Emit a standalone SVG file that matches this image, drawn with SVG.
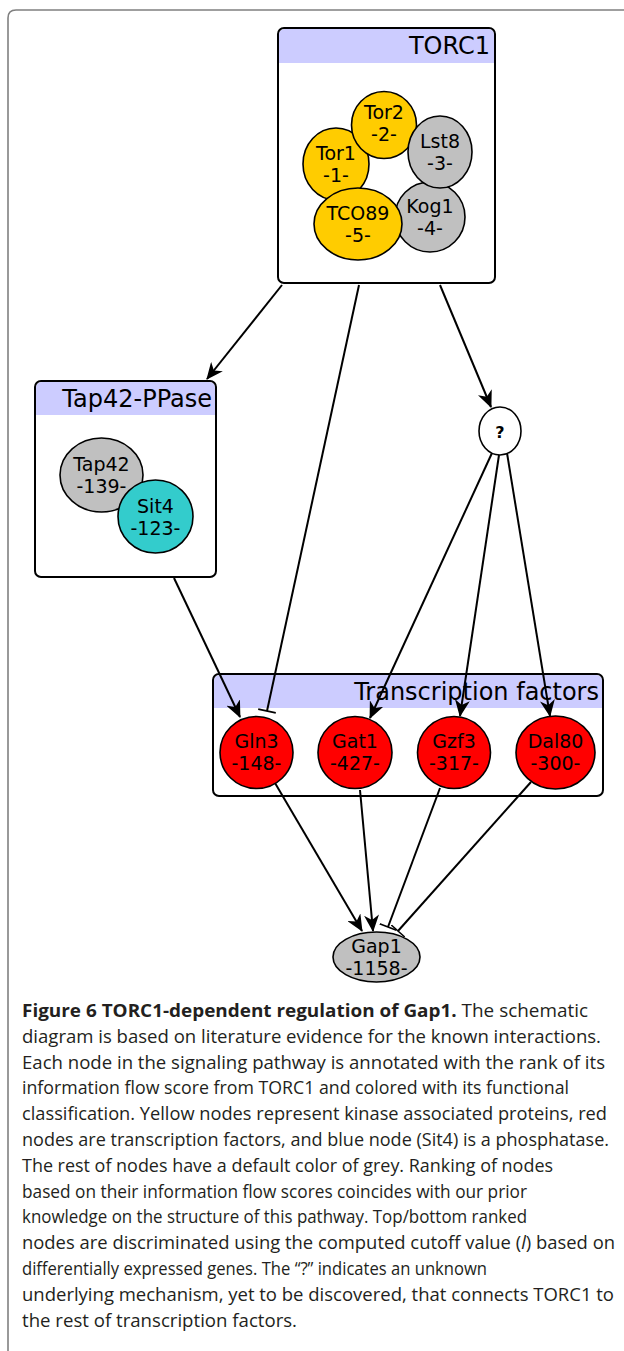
<svg xmlns="http://www.w3.org/2000/svg" width="624" height="1351" viewBox="0 0 624 1351">
<style>
.bg{fill:#fff}
.box{fill:none;stroke:#000;stroke-width:2}
.boxfill{fill:#fff}
.hdr{fill:#ccccff}
.title{font-family:'DejaVu Sans',sans-serif;font-size:24px;text-anchor:end;fill:#000}
.lbl{font-family:'DejaVu Sans',sans-serif;font-size:19px;text-anchor:middle;fill:#000}
.n{stroke:#000;stroke-width:1.6}
.y{fill:#ffcc00}.g{fill:#c0c0c0}.t{fill:#33cccc}.r{fill:#ff0000}.w{fill:#fff}
.e{fill:none;stroke:#000;stroke-width:2}
.cap{font-family:'Open Sans',sans-serif;font-size:18.5px;fill:#231f20}
.b{font-weight:bold}
.frame{fill:none;stroke:#808080;stroke-width:1.6}
</style>
<defs>
<marker id="arr" markerWidth="17" markerHeight="15" refX="16" refY="7.5" orient="auto" markerUnits="userSpaceOnUse"><path d="M0,0 L17,7.5 L0,15 L5,7.5 Z" fill="#000"/></marker>
<marker id="bar" markerWidth="4" markerHeight="18" refX="2" refY="9" orient="auto" markerUnits="userSpaceOnUse"><path d="M2,0 L2,18" stroke="#000" stroke-width="1.6"/></marker>
</defs>
<rect class="bg" x="0" y="0" width="624" height="1351"/>
<path class="frame" d="M8,1351 L8,18 Q8,10 16,10 L624,10"/>

<g id="TORC1">
<rect class="boxfill" x="278" y="28" width="217" height="255" rx="6"/>
<path class="hdr" d="M279,35 Q279,29 285,29 L488,29 Q494,29 494,35 L494,63 L279,63 Z"/>
<rect class="box" x="278" y="28" width="217" height="255" rx="6"/>
<text class="title" x="490" y="54">TORC1</text>
</g>
<g id="Tap42-PPase">
<rect class="boxfill" x="35" y="381" width="181" height="196" rx="6"/>
<path class="hdr" d="M36,388 Q36,382 42,382 L209,382 Q215,382 215,388 L215,415 L36,415 Z"/>
<rect class="box" x="35" y="381" width="181" height="196" rx="6"/>
<text class="title" x="212" y="407">Tap42-PPase</text>
</g>
<g id="TranscriptionFactors">
<rect class="boxfill" x="213" y="674" width="390" height="122" rx="6"/>
<path class="hdr" d="M214,681 Q214,675 220,675 L596,675 Q602,675 602,681 L602,708 L214,708 Z"/>
<rect class="box" x="213" y="674" width="390" height="122" rx="6"/>
<text class="title" x="599" y="700">Transcription factors</text>
</g>

<g id="connectors">
<path class="e" d="M282,285 L207,379" marker-end="url(#arr)"/>
<path class="e" d="M359,285 L267,711" marker-end="url(#bar)"/>
<path class="e" d="M440,285 L491,407" marker-end="url(#arr)"/>
<path class="e" d="M174,578 L240,717" marker-end="url(#arr)"/>
<path class="e" d="M492,453 L370,718" marker-end="url(#arr)"/>
<path class="e" d="M499,455 L460,716" marker-end="url(#arr)"/>
<path class="e" d="M507,453 L550,716" marker-end="url(#arr)"/>
<path class="e" d="M275,783 L362,931" marker-end="url(#arr)"/>
<path class="e" d="M360,790 L373,931" marker-end="url(#arr)"/>
<path class="e" d="M440,788 L388,927" marker-end="url(#bar)"/>
<path class="e" d="M531,782 L398,931" marker-end="url(#bar)"/>
</g>

<g id="Tor1"><ellipse class="n y" cx="336" cy="164" rx="33" ry="36"/><text class="lbl" x="336" y="160">Tor1</text><text class="lbl" x="336" y="182">-1-</text></g>
<g id="Tor2"><ellipse class="n y" cx="384" cy="125" rx="32.5" ry="33.5"/><text class="lbl" x="384" y="119">Tor2</text><text class="lbl" x="384" y="141">-2-</text></g>
<g id="Kog1"><ellipse class="n g" cx="430" cy="217" rx="35" ry="35"/><text class="lbl" x="430" y="213">Kog1</text><text class="lbl" x="430" y="235">-4-</text></g>
<g id="Lst8"><ellipse class="n g" cx="440" cy="152" rx="32" ry="36"/><text class="lbl" x="440" y="148">Lst8</text><text class="lbl" x="440" y="170">-3-</text></g>
<g id="TCO89"><ellipse class="n y" cx="358" cy="224" rx="44" ry="36"/><text class="lbl" x="358" y="220">TCO89</text><text class="lbl" x="358" y="242">-5-</text></g>

<g id="Tap42"><ellipse class="n g" cx="101.5" cy="475" rx="41.5" ry="37"/><text class="lbl" x="101.5" y="471">Tap42</text><text class="lbl" x="101.5" y="493">-139-</text></g>
<g id="Sit4"><ellipse class="n t" cx="155.5" cy="516.5" rx="37.5" ry="36.5"/><text class="lbl" x="155.5" y="513">Sit4</text><text class="lbl" x="155.5" y="535">-123-</text></g>

<g id="Q"><ellipse class="n w" cx="500" cy="431" rx="21" ry="24"/><text class="lbl" x="500" y="438" style="font-size:16px;font-weight:bold">?</text></g>

<g id="Gln3"><ellipse class="n r" cx="256.5" cy="752.5" rx="36.5" ry="36"/><text class="lbl" x="256.5" y="748">Gln3</text><text class="lbl" x="256.5" y="770">-148-</text></g>
<g id="Gat1"><ellipse class="n r" cx="355" cy="752.5" rx="37" ry="36"/><text class="lbl" x="355" y="748">Gat1</text><text class="lbl" x="355" y="770">-427-</text></g>
<g id="Gzf3"><ellipse class="n r" cx="454" cy="752.5" rx="36.5" ry="36"/><text class="lbl" x="454" y="748">Gzf3</text><text class="lbl" x="454" y="770">-317-</text></g>
<g id="Dal80"><ellipse class="n r" cx="555.5" cy="752.5" rx="39.5" ry="36.5"/><text class="lbl" x="555.5" y="748">Dal80</text><text class="lbl" x="555.5" y="770">-300-</text></g>

<g id="Gap1"><ellipse class="n g" cx="376.5" cy="957" rx="43.5" ry="25"/><text class="lbl" x="376.5" y="953">Gap1</text><text class="lbl" x="376.5" y="975">-1158-</text></g>

<g id="caption">
<text class="cap" x="22" y="1017" textLength="566" lengthAdjust="spacingAndGlyphs"><tspan class="b">Figure 6 TORC1-dependent regulation of Gap1.</tspan> The schematic</text>
<text class="cap" x="22" y="1042.8" textLength="579" lengthAdjust="spacingAndGlyphs">diagram is based on literature evidence for the known interactions.</text>
<text class="cap" x="22" y="1068.6" textLength="583" lengthAdjust="spacingAndGlyphs">Each node in the signaling pathway is annotated with the rank of its</text>
<text class="cap" x="22" y="1094.4" textLength="547" lengthAdjust="spacingAndGlyphs">information flow score from TORC1 and colored with its functional</text>
<text class="cap" x="22" y="1120.2" textLength="585" lengthAdjust="spacingAndGlyphs">classification. Yellow nodes represent kinase associated proteins, red</text>
<text class="cap" x="22" y="1146" textLength="587" lengthAdjust="spacingAndGlyphs">nodes are transcription factors, and blue node (Sit4) is a phosphatase.</text>
<text class="cap" x="22" y="1171.8" textLength="531" lengthAdjust="spacingAndGlyphs">The rest of nodes have a default color of grey. Ranking of nodes</text>
<text class="cap" x="22" y="1197.6" textLength="505" lengthAdjust="spacingAndGlyphs">based on their information flow scores coincides with our prior</text>
<text class="cap" x="22" y="1223.4" textLength="505" lengthAdjust="spacingAndGlyphs">knowledge on the structure of this pathway. Top/bottom ranked</text>
<text class="cap" x="22" y="1249.2" textLength="593" lengthAdjust="spacingAndGlyphs">nodes are discriminated using the computed cutoff value (<tspan font-style="italic">l</tspan>) based on</text>
<text class="cap" x="22" y="1275" textLength="465" lengthAdjust="spacingAndGlyphs">differentially expressed genes. The “?” indicates an unknown</text>
<text class="cap" x="22" y="1300.8" textLength="592" lengthAdjust="spacingAndGlyphs">underlying mechanism, yet to be discovered, that connects TORC1 to</text>
<text class="cap" x="22" y="1326.6" textLength="275" lengthAdjust="spacingAndGlyphs">the rest of transcription factors.</text>
</g>
</svg>
